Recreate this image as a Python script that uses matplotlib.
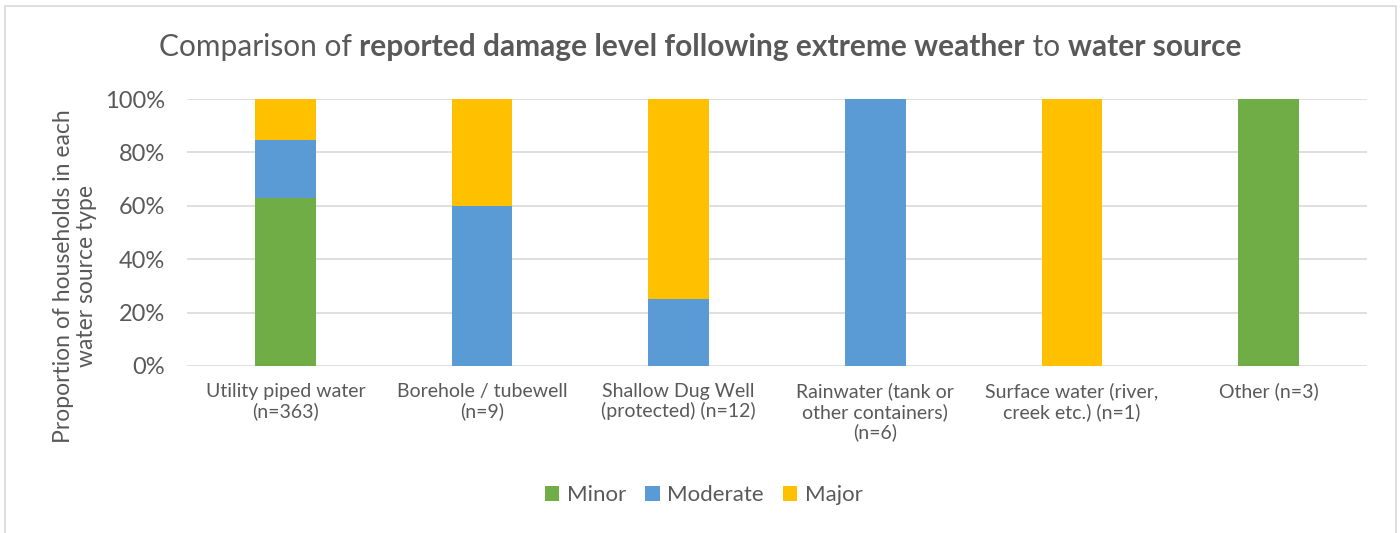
import matplotlib
matplotlib.use("Agg")
import matplotlib.pyplot as plt
import numpy as np
from matplotlib.patches import Rectangle

plt.rcParams["font.family"] = ["Lato", "DejaVu Sans"]

# Share of households (%) by damage level for each water source
categories = [
    "Utility piped water\n(n=363)",
    "Borehole / tubewell\n(n=9)",
    "Shallow Dug Well\n(protected) (n=12)",
    "Rainwater (tank or\nother containers)\n(n=6)",
    "Surface water (river,\ncreek etc.) (n=1)",
    "Other (n=3)",
]
minor    = [62.9, 0, 0, 0, 0, 100]
moderate = [21.9, 60, 25, 100, 0, 0]
major    = [15.2, 40, 75, 0, 100, 0]

GREEN, BLUE, YELLOW = "#70AD47", "#5B9BD5", "#FFC000"
TEXT = "#595959"
GRID = "#D9D9D9"

fig = plt.figure(figsize=(14, 5.33), dpi=100)
ax = fig.add_axes([187 / 1400, 1 - 366 / 533, 1180 / 1400, 267 / 533])

x = np.arange(len(categories))
w = 0.31
minor_a = np.array(minor)
mod_a = np.array(moderate)
ax.bar(x, minor, w, color=GREEN, label="Minor", zorder=3)
ax.bar(x, moderate, w, bottom=minor_a, color=BLUE, label="Moderate", zorder=3)
ax.bar(x, major, w, bottom=minor_a + mod_a, color=YELLOW, label="Major", zorder=3)

ax.set_xlim(-0.5, len(categories) - 0.5)
ax.set_ylim(0, 100)
ax.set_yticks(np.arange(0, 101, 20))
ax.set_yticklabels([f"{v}%" for v in range(0, 101, 20)])
ax.set_xticks(x)
ax.set_xticklabels(categories, linespacing=1.15)
ax.tick_params(axis="y", length=0, pad=16, labelsize=17, labelcolor=TEXT)
ax.tick_params(axis="x", length=0, pad=12, labelsize=14, labelcolor=TEXT)
ax.grid(axis="y", color=GRID, linewidth=1.2, zorder=0)
for s in ax.spines.values():
    s.set_visible(False)

# Axis title sits a little below the plot's vertical centre
fig.text(75 / 1400, 1 - 276 / 533,
         "Proportion of households in each\nwater source type",
         rotation=90, ha="center", va="center", multialignment="center",
         fontsize=16.5, color=TEXT, linespacing=1.1)

ax.legend(loc="center", bbox_to_anchor=(704 / 1400, 1 - 495 / 533),
          bbox_transform=fig.transFigure, ncol=3, frameon=False,
          fontsize=16, labelcolor=TEXT, handlelength=0.65, handleheight=0.65,
          handletextpad=0.35, columnspacing=0.85)

# Title with bold segments, laid out piece by piece and centred
parts = [
    ("Comparison of ", "normal"),
    ("reported damage level following extreme weather", "bold"),
    (" to ", "normal"),
    ("water source", "bold"),
]
renderer = fig.canvas.get_renderer()
ty = 1 - 47 / 533
texts = []
for s, wt in parts:
    t = fig.text(0, ty, s, fontsize=21.5, fontweight=wt, color=TEXT, va="center")
    texts.append(t)
widths = [t.get_window_extent(renderer).width for t in texts]
total = sum(widths)
xpos = (1400 - total) / 2
for t, wd in zip(texts, widths):
    t.set_x(xpos / 1400)
    xpos += wd

# Light chart border
fig.patches.append(Rectangle((5 / 1400, -0.01), 1391 / 1400, 1 - 6 / 533 + 0.01,
                             transform=fig.transFigure, fill=False,
                             edgecolor=GRID, linewidth=1.2))

fig.savefig("out.png", dpi=100)
